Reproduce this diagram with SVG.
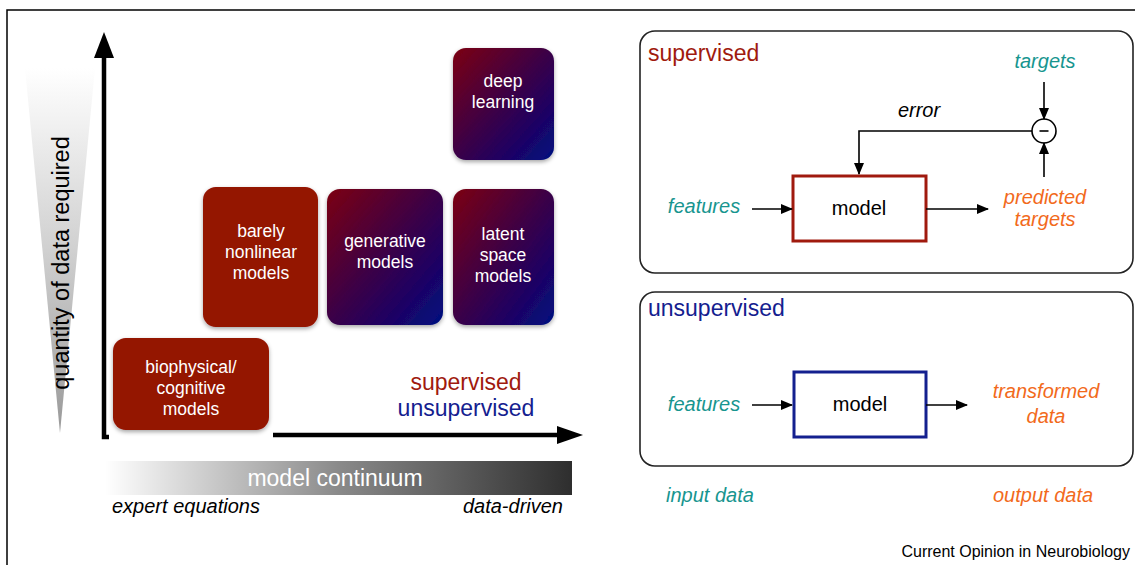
<svg xmlns="http://www.w3.org/2000/svg" width="1135" height="565" viewBox="0 0 1135 565">
<defs>
<style>
text{font-family:"Liberation Sans",Arial,sans-serif}
.bt{fill:#fff;font-size:17.5px;text-anchor:middle}
.it{font-style:italic;font-size:20px}
.teal{fill:#17958f}
.org{fill:#f26a1b}
.red{fill:#a01a0e}
.blue{fill:#14208f}
.ln{stroke:#000;stroke-width:1.6;fill:none}
.panel{fill:#fff;stroke:#222;stroke-width:1.6}
</style>
<linearGradient id="gPurple" x1="0" y1="0" x2="1" y2="1">
<stop offset="0" stop-color="#7c0012"/>
<stop offset="0.5" stop-color="#3a0048"/>
<stop offset="1" stop-color="#000a80"/>
</linearGradient>
<linearGradient id="gTri" x1="0" y1="0" x2="0" y2="1">
<stop offset="0" stop-color="#fff"/>
<stop offset="0.5" stop-color="#d0d0d0"/>
<stop offset="1" stop-color="#999"/>
</linearGradient>
<linearGradient id="gBar" x1="0" y1="0" x2="1" y2="0">
<stop offset="0" stop-color="#fff"/>
<stop offset="0.5" stop-color="#8a8a8a"/>
<stop offset="1" stop-color="#2e2e2e"/>
</linearGradient>
<filter id="sh" x="-10%" y="-10%" width="125%" height="125%">
<feDropShadow dx="0" dy="2" stdDeviation="2" flood-color="#000" flood-opacity="0.35"/>
</filter>
<marker id="ah" markerWidth="12" markerHeight="10" refX="11" refY="5" orient="auto" markerUnits="userSpaceOnUse">
<path d="M0,0 L12,5 L0,10 Z" fill="#000"/>
</marker>
</defs>
<rect width="1135" height="565" fill="#fff"/>
<path d="M7,565 V10 H1135" fill="none" stroke="#000" stroke-width="1.5"/>

<g id="axis-gradient">
<polygon points="25,68 95,68 60,433" fill="url(#gTri)"/>
<text x="69" y="263" font-size="23.5" text-anchor="middle" transform="rotate(-90 69 263)" fill="#000">quantity of data required</text>
</g>

<g id="axes">
<path d="M104,55 V437 H109" fill="none" stroke="#000" stroke-width="4.5"/>
<polygon points="94,58 104,32 114,58" fill="#000"/>
<line x1="273" y1="435" x2="560" y2="435" stroke="#000" stroke-width="4.5"/>
<polygon points="557,426 583,435 557,444" fill="#000"/>
</g>

<g id="node-biophysical">
<rect x="113" y="338" width="156" height="92" rx="13" fill="#941200" filter="url(#sh)"/>
<text class="bt" x="191" y="373">biophysical/</text>
<text class="bt" x="191" y="394">cognitive</text>
<text class="bt" x="191" y="415">models</text>
</g>
<g id="node-barely">
<rect x="203" y="187" width="115" height="140" rx="13" fill="#941200" filter="url(#sh)"/>
<text class="bt" x="261" y="237">barely</text>
<text class="bt" x="261" y="258">nonlinear</text>
<text class="bt" x="261" y="279">models</text>
</g>
<g id="node-generative">
<rect x="327" y="189" width="116" height="136" rx="13" fill="url(#gPurple)" filter="url(#sh)"/>
<text class="bt" x="385" y="247">generative</text>
<text class="bt" x="385" y="268">models</text>
</g>
<g id="node-latent">
<rect x="453" y="189" width="101" height="136" rx="13" fill="url(#gPurple)" filter="url(#sh)"/>
<text class="bt" x="503" y="240">latent</text>
<text class="bt" x="503" y="261">space</text>
<text class="bt" x="503" y="282">models</text>
</g>
<g id="node-deep">
<rect x="453" y="48" width="101" height="112" rx="13" fill="url(#gPurple)" filter="url(#sh)"/>
<text class="bt" x="503" y="87">deep</text>
<text class="bt" x="503" y="108">learning</text>
</g>

<g id="legend-left">
<text class="red" x="466" y="390" font-size="23" text-anchor="middle">supervised</text>
<text class="blue" x="466" y="416" font-size="23" text-anchor="middle">unsupervised</text>
</g>

<g id="continuum">
<rect x="105" y="461" width="467" height="34" fill="url(#gBar)"/>
<text x="335" y="486" font-size="23" fill="#fff" text-anchor="middle">model continuum</text>
<text class="it" x="112" y="513" fill="#000" font-size="19.5">expert equations</text>
<text class="it" x="563" y="513" fill="#000" font-size="19.5" text-anchor="end">data-driven</text>
</g>

<g id="panel-supervised">
<rect class="panel" x="640" y="31" width="493" height="242" rx="15"/>
<text class="red" x="648" y="61" font-size="23">supervised</text>
<text class="it teal" x="1045" y="68" text-anchor="middle">targets</text>
<text class="it" x="919" y="117" text-anchor="middle" fill="#000">error</text>
<text class="it teal" x="704" y="213" text-anchor="middle">features</text>
<text class="it org" x="1045" y="204" text-anchor="middle">predicted</text>
<text class="it org" x="1045" y="226" text-anchor="middle">targets</text>
</g>
<g id="node-model-sup">
<rect x="793" y="176" width="133" height="65" fill="#fff" stroke="#a01a0e" stroke-width="3"/>
<text x="859" y="215" font-size="20" text-anchor="middle" fill="#000">model</text>
</g>
<g id="node-minus">
<circle cx="1044" cy="131" r="12" fill="#fff" stroke="#000" stroke-width="1.6"/>
<line x1="1039.5" y1="131" x2="1048.5" y2="131" stroke="#000" stroke-width="1.6"/>
</g>

<g id="panel-unsupervised">
<rect class="panel" x="640" y="292" width="493" height="174" rx="15"/>
<text class="blue" x="648" y="316" font-size="23">unsupervised</text>
<text class="it teal" x="704" y="411" text-anchor="middle">features</text>
<text class="it org" x="1046" y="398" text-anchor="middle">transformed</text>
<text class="it org" x="1046" y="423" text-anchor="middle">data</text>
</g>
<g id="node-model-unsup">
<rect x="794" y="372" width="132" height="65" fill="#fff" stroke="#14208f" stroke-width="3"/>
<text x="860" y="411" font-size="20" text-anchor="middle" fill="#000">model</text>
</g>

<g id="connectors">
<line class="ln" x1="1044" y1="82" x2="1044" y2="119" marker-end="url(#ah)"/>
<line class="ln" x1="1044" y1="177" x2="1044" y2="143" marker-end="url(#ah)"/>
<path class="ln" d="M1032,131 H859 V174" marker-end="url(#ah)"/>
<line class="ln" x1="752" y1="209" x2="792" y2="209" marker-end="url(#ah)"/>
<line class="ln" x1="926" y1="209" x2="988" y2="209" marker-end="url(#ah)"/>
<line class="ln" x1="752" y1="405" x2="792" y2="405" marker-end="url(#ah)"/>
<line class="ln" x1="926" y1="405" x2="967" y2="405" marker-end="url(#ah)"/>
</g>

<g id="footer">
<text class="it teal" x="666" y="502">input data</text>
<text class="it org" x="993" y="502">output data</text>
<text x="1130" y="557" font-size="16" text-anchor="end" fill="#000">Current Opinion in Neurobiology</text>
</g>
</svg>
